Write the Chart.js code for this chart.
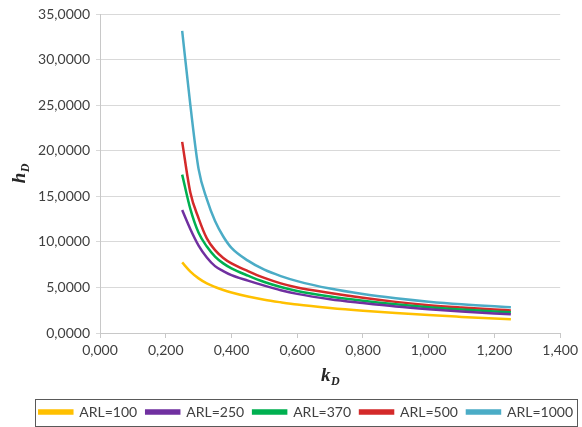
<!DOCTYPE html>
<html>
<head>
<meta charset="utf-8">
<script src="https://cdn.jsdelivr.net/npm/chart.js@4"></script>
<style>
html,body{margin:0;padding:0;background:#fff;}
#wrap{width:582px;height:427px;position:relative;}
</style>
</head>
<body>
<div id="wrap"><canvas id="c" width="582" height="427"></canvas></div>
<script>
const kValues = [0.25, 0.275, 0.30, 0.325, 0.35, 0.375, 0.40, 0.45, 0.50, 0.55, 0.60, 0.70, 0.80, 0.90, 1.00, 1.10, 1.20, 1.25];
const arl100  = [7.75, 6.75, 6.00, 5.45, 5.05, 4.72, 4.45, 4.00, 3.65, 3.37, 3.12, 2.75, 2.45, 2.20, 1.97, 1.77, 1.58, 1.50];
const arl250  = [13.5, 11.4, 9.60, 8.30, 7.35, 6.80, 6.35, 5.75, 5.20, 4.70, 4.30, 3.72, 3.30, 2.92, 2.62, 2.37, 2.15, 2.05];
const arl370  = [17.4, 13.6, 11.0, 9.50, 8.40, 7.65, 7.10, 6.30, 5.60, 5.05, 4.62, 4.02, 3.55, 3.15, 2.83, 2.58, 2.37, 2.27];
const arl500  = [21.0, 15.4, 12.6, 10.4, 9.10, 8.25, 7.65, 6.80, 6.05, 5.45, 5.00, 4.40, 3.87, 3.42, 3.06, 2.80, 2.58, 2.48];
const arl1000 = [33.2, 25.0, 18.0, 14.7, 12.3, 10.6, 9.35, 7.95, 6.95, 6.25, 5.70, 4.88, 4.28, 3.82, 3.44, 3.15, 2.93, 2.84];
const seriesNames = ['ARL=100', 'ARL=250', 'ARL=370', 'ARL=500', 'ARL=1000'];
const seriesColors = ['#FFC000', '#7030A0', '#00B050', '#D42A2A', '#4BACC6'];
const yTicks = [0, 5, 10, 15, 20, 25, 30, 35];
const xTicks = [0, 0.2, 0.4, 0.6, 0.8, 1.0, 1.2, 1.4];

const allSeries = [arl100, arl250, arl370, arl500, arl1000];
const datasets = allSeries.map((vals, i) => ({
  label: seriesNames[i],
  data: vals.map((v, j) => ({x: kValues[j], y: v})),
  borderColor: seriesColors[i],
  backgroundColor: seriesColors[i],
  borderWidth: 2.5,
  pointRadius: 0,
  cubicInterpolationMode: 'monotone',
  fill: false
}));

const textColor = '#404040';
const baseFont = {family: 'Lato', size: 14};

const titlePlugin = {
  id: 'axisTitles',
  afterDraw(chart) {
    const ctx = chart.ctx;
    const area = chart.chartArea;
    ctx.save();
    ctx.fillStyle = '#262626';
    ctx.textBaseline = 'alphabetic';
    const big = 'bold italic 19px "Liberation Serif"';
    const small = 'bold italic 12px "Liberation Serif"';
    ctx.font = big;
    const kw = ctx.measureText('k').width;
    ctx.font = small;
    const dw = ctx.measureText('D').width;
    const cx = (area.left + area.right) / 2;
    const startX = cx - (kw + dw) / 2;
    ctx.font = big;
    ctx.textAlign = 'left';
    ctx.fillText('k', startX, 381);
    ctx.font = small;
    ctx.fillText('D', startX + kw + 0.5, 385);
    ctx.translate(25, (area.top + area.bottom) / 2);
    ctx.rotate(-Math.PI / 2);
    ctx.font = big;
    const hw = ctx.measureText('h').width;
    const sx = -(hw + dw) / 2;
    ctx.fillText('h', sx, 0);
    ctx.font = small;
    ctx.fillText('D', sx + hw + 0.5, 4);
    ctx.restore();

    const lg = chart.legend;
    if (lg && lg.legendHitBoxes && lg.legendHitBoxes.length) {
      const hb = lg.legendHitBoxes;
      const left = Math.round(hb[0].left - 4) + 0.5;
      const last = hb[hb.length - 1];
      const right = Math.min(Math.round(last.left + last.width + 5), 581) - 0.5;
      const top = 399.5, bottom = 426.5;
      ctx.save();
      ctx.strokeStyle = '#595959';
      ctx.lineWidth = 1;
      ctx.strokeRect(left, top, right - left, bottom - top);
      ctx.restore();
    }
  }
};

new Chart(document.getElementById('c'), {
  type: 'line',
  data: {datasets},
  plugins: [titlePlugin],
  options: {
    responsive: false,
    animation: false,
    devicePixelRatio: 1,
    layout: {padding: {left: 0, right: 0, top: 8, bottom: -2}},
    plugins: {
      legend: {
        position: 'bottom',
        align: 'end',
        labels: {
          boxWidth: 33,
          boxHeight: 3,
          padding: 9,
          color: textColor,
          font: baseFont
        }
      },
      tooltip: {enabled: false}
    },
    scales: {
      x: {
        type: 'linear',
        min: 0,
        max: 1.4,
        afterBuildTicks(scale) { scale.ticks = xTicks.map(v => ({value: v})); },
        afterFit(scale) { scale.height = 63; },
        ticks: {
          color: textColor,
          font: baseFont,
          padding: 4,
          maxRotation: 0,
          callback: v => Number(v).toFixed(3).replace('.', ',')
        },
        grid: {drawOnChartArea: false, drawTicks: true, tickLength: 5, color: '#c8c8c8'},
        border: {color: '#c8c8c8', width: 1}
      },
      y: {
        type: 'linear',
        min: 0,
        max: 35,
        afterBuildTicks(scale) { scale.ticks = yTicks.map(v => ({value: v})); },
        afterFit(scale) { scale.width = 100; },
        ticks: {
          color: textColor,
          font: baseFont,
          padding: 6,
          callback: v => Number(v).toFixed(4).replace('.', ',')
        },
        grid: {color: '#d9d9d9', lineWidth: 1, drawTicks: true, tickLength: 4},
        border: {color: '#c8c8c8', width: 1}
      }
    }
  }
});
</script>
</body>
</html>
